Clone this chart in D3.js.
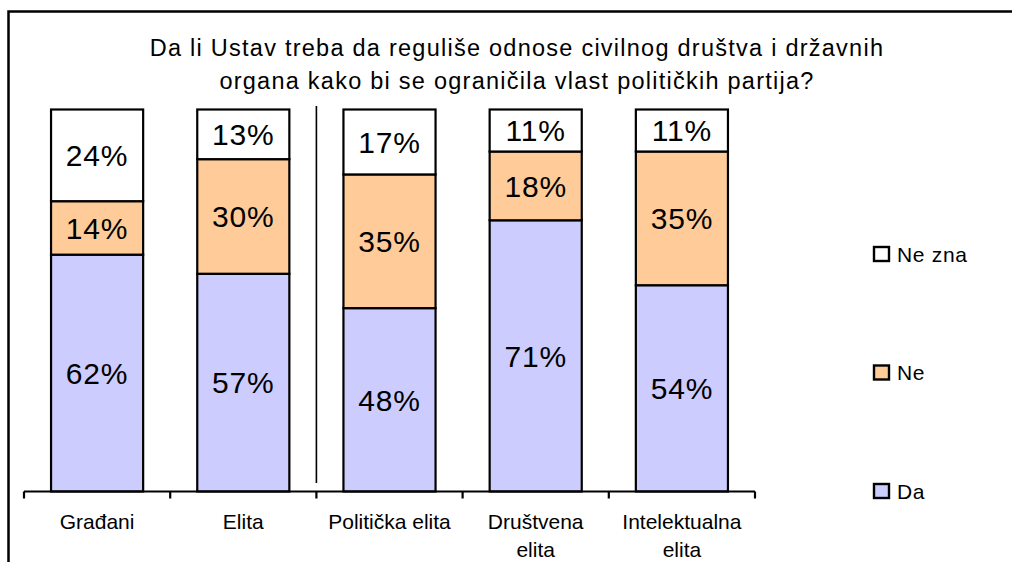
<!DOCTYPE html>
<html>
<head>
<meta charset="utf-8">
<script src="https://cdn.jsdelivr.net/npm/d3@7"></script>
<style>
  html, body { margin: 0; padding: 0; background: #fff; }
  svg { display: block; font-family: "Liberation Sans", Arial, sans-serif; }
</style>
</head>
<body>
<svg id="chart" width="1012" height="562"></svg>
<script>
// ---- Data ----
const categories = ["Građani", "Elita", "Politička elita", "Društvena elita", "Intelektualna elita"];
const categoryLines = [["Građani"], ["Elita"], ["Politička elita"], ["Društvena", "elita"], ["Intelektualna", "elita"]];
const seriesNames = ["Da", "Ne", "Ne zna"];
const da = [62, 57, 48, 71, 54];
const ne = [14, 30, 35, 18, 35];
const neZna = [24, 13, 17, 11, 11];
const seriesColors = ["#CCCCFF", "#FFCC99", "#FFFFFF"];
const titleLines = ["Da li Ustav treba da reguliše odnose civilnog društva i državnih",
                    "organa kako bi se ograničila vlast političkih partija?"];

// ---- Layout ----
const svg = d3.select("#chart");
const W = 1012, H = 562;
const plot = { left: 24, right: 755, top: 109.5, bottom: 491.5 };

// Frame (left and top edges visible)
svg.append("path")
  .attr("d", `M8.5,${H + 5} L8.5,11.5 L${W + 5},11.5`)
  .attr("fill", "none").attr("stroke", "#000").attr("stroke-width", 2.5);

// Title
const title = svg.append("text")
  .attr("text-anchor", "middle")
  .attr("font-size", 23.5)
  .attr("letter-spacing", 1.25)
  .attr("fill", "#000");
titleLines.forEach((t, i) => {
  title.append("tspan").attr("x", 517).attr("y", 56 + i * 33).text(t);
});

// Scales
const x = d3.scaleBand().domain(categories).range([plot.left, plot.right]).paddingInner(0.37).paddingOuter(0.185);
const y = d3.scaleLinear().domain([0, 100]).range([plot.bottom, plot.top]);

const rows = categories.map((c, i) => ({ cat: c, Da: da[i], Ne: ne[i], "Ne zna": neZna[i] }));
const stack = d3.stack().keys(seriesNames)(rows);
const color = d3.scaleOrdinal().domain(seriesNames).range(seriesColors);

// Bars
const g = svg.append("g");
stack.forEach(layer => {
  const lg = g.append("g");
  lg.selectAll("rect").data(layer).join("rect")
    .attr("x", d => x(d.data.cat))
    .attr("y", d => y(d[1]))
    .attr("width", x.bandwidth())
    .attr("height", d => y(d[0]) - y(d[1]))
    .attr("fill", color(layer.key))
    .attr("stroke", "#000")
    .attr("stroke-width", 2.2);
  lg.selectAll("text").data(layer).join("text")
    .attr("x", d => x(d.data.cat) + x.bandwidth() / 2)
    .attr("y", d => (y(d[0]) + y(d[1])) / 2)
    .attr("dy", "0.36em")
    .attr("text-anchor", "middle")
    .attr("font-size", 30)
    .attr("letter-spacing", 0.8)
    .attr("fill", "#000")
    .text(d => (d[1] - d[0]) + "%");
});

// Divider between Elita and Politička elita
const divX = (x(categories[1]) + x.bandwidth() + x(categories[2])) / 2;
svg.append("line")
  .attr("x1", divX).attr("x2", divX)
  .attr("y1", 106).attr("y2", 483)
  .attr("stroke", "#000").attr("stroke-width", 1.6);

// X axis
const axisLine = svg.append("g");
axisLine.append("line")
  .attr("x1", plot.left).attr("x2", plot.right)
  .attr("y1", plot.bottom).attr("y2", plot.bottom)
  .attr("stroke", "#000").attr("stroke-width", 2.2);
const tickXs = d3.range(categories.length + 1).map(i => plot.left + i * (plot.right - plot.left) / categories.length);
axisLine.selectAll("line.tick").data(tickXs).join("line")
  .attr("class", "tick")
  .attr("x1", d => d).attr("x2", d => d)
  .attr("y1", plot.bottom).attr("y2", plot.bottom + 7)
  .attr("stroke", "#000").attr("stroke-width", 2.2);

categoryLines.forEach((lines, i) => {
  const cx = x(categories[i]) + x.bandwidth() / 2;
  const t = svg.append("text").attr("text-anchor", "middle").attr("font-size", 21).attr("fill", "#000");
  lines.forEach((ln, j) => {
    t.append("tspan").attr("x", cx).attr("y", 529 + j * 28).text(ln);
  });
});

// Legend
const legendItems = ["Ne zna", "Ne", "Da"];
const legendY = d3.scalePoint().domain(legendItems).range([254, 491]);
const lgd = svg.append("g");
legendItems.forEach(name => {
  const cy = legendY(name);
  lgd.append("rect")
    .attr("x", 874).attr("y", cy - 7)
    .attr("width", 15).attr("height", 14)
    .attr("fill", color(name))
    .attr("stroke", "#000").attr("stroke-width", 2.4);
  lgd.append("text")
    .attr("x", 897).attr("y", cy)
    .attr("dy", "0.36em")
    .attr("font-size", 21)
    .attr("letter-spacing", 0.7)
    .attr("fill", "#000")
    .text(name);
});
</script>
</body>
</html>
